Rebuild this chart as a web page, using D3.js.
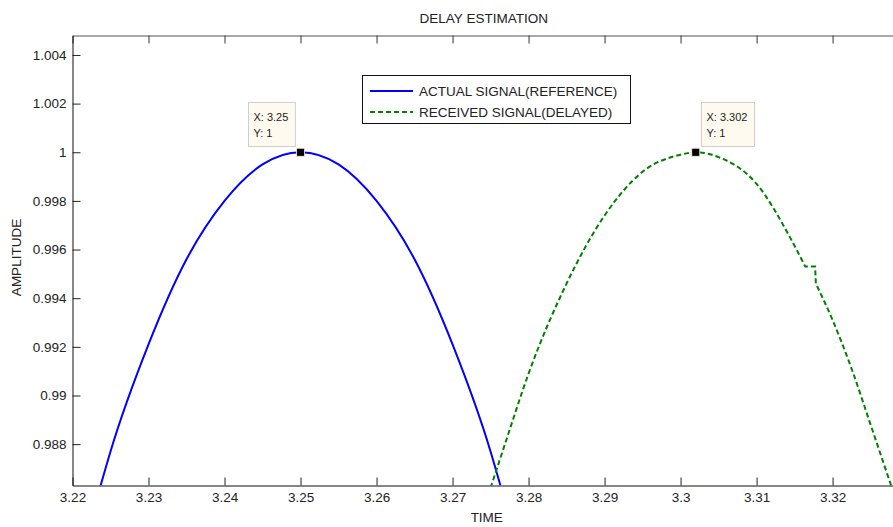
<!DOCTYPE html>
<html>
<head>
<meta charset="utf-8">
<script src="https://cdn.jsdelivr.net/npm/d3@7"></script>
<style>
  html, body { margin: 0; padding: 0; background: #fff; overflow: hidden; }
  svg { display: block; }
  text { font-family: "Liberation Sans", Arial, Helvetica, sans-serif; fill: #222; }
</style>
</head>
<body>
<svg id="chart" width="893" height="527"></svg>
<script>
// Reference signal samples (time in s, amplitude)
const refTime = [3.2237, 3.2250, 3.2300, 3.2350, 3.2400, 3.2450, 3.2500,
                 3.2550, 3.2600, 3.2650, 3.2700, 3.2750, 3.2763];
const refAmp  = [0.9863, 0.9877, 0.9921, 0.9956, 0.9980, 0.9995, 1.0000,
                 0.9995, 0.9980, 0.9956, 0.9921, 0.9877, 0.9863];

// Received (delayed) signal samples; the flat pair near 3.317 is a hold step
const delayedTime = [3.2750, 3.2770, 3.2800, 3.2850, 3.2900, 3.2950, 3.3000, 3.3020,
                     3.3050, 3.3100, 3.3144, 3.3164, 3.3177, 3.3178, 3.3200, 3.3225,
                     3.3250, 3.3277];
const delayedAmp  = [0.9862, 0.9881, 0.9909, 0.9946, 0.9974, 0.9992, 0.9999, 1.0000,
                     0.9998, 0.9987, 0.9965, 0.9953, 0.9953, 0.9946, 0.9931, 0.9911,
                     0.9888, 0.9863];

// Axis ticks and their labels
const timeTicks  = [3.22, 3.23, 3.24, 3.25, 3.26, 3.27, 3.28, 3.29, 3.30, 3.31, 3.32];
const timeLabels = ["3.22", "3.23", "3.24", "3.25", "3.26", "3.27", "3.28", "3.29", "3.3", "3.31", "3.32"];
const ampTicks   = [0.988, 0.990, 0.992, 0.994, 0.996, 0.998, 1.000, 1.002, 1.004];
const ampLabels  = ["0.988", "0.99", "0.992", "0.994", "0.996", "0.998", "1", "1.002", "1.004"];

// Data cursor readouts
const tipX = [3.25, 3.302];
const tipY = [1, 1];
const tipXLabels = ["X: 3.25", "X: 3.302"];
const tipYLabels = ["Y: 1", "Y: 1"];

// Legend entries
const seriesNames = ["ACTUAL SIGNAL(REFERENCE)", "RECEIVED SIGNAL(DELAYED)"];

const svg = d3.select("#chart");
const plot = { left: 72.5, right: 901, top: 35.5, bottom: 485.5 };

const x = d3.scaleLinear().domain([3.22, 3.329]).range([plot.left, plot.right]);
const y = d3.scaleLinear().domain([0.9863, 1.0048]).range([plot.bottom, plot.top]);

svg.append("defs").append("clipPath").attr("id", "plotClip")
  .append("rect")
  .attr("x", plot.left).attr("y", plot.top)
  .attr("width", plot.right - plot.left).attr("height", plot.bottom - plot.top);

const fontSize = "13.5px";

// Bottom axis with labels, ticks pointing inward
const bottomAxis = d3.axisBottom(x).tickValues(timeTicks)
  .tickFormat((d, i) => timeLabels[i]).tickSizeInner(-8).tickSizeOuter(0).tickPadding(7);
const gb = svg.append("g").attr("transform", `translate(0,${plot.bottom})`).call(bottomAxis);

// Top axis: ticks only
const topAxis = d3.axisTop(x).tickValues(timeTicks)
  .tickFormat("").tickSizeInner(-8).tickSizeOuter(0);
const gt = svg.append("g").attr("transform", `translate(0,${plot.top})`).call(topAxis);

// Left axis with labels
const leftAxis = d3.axisLeft(y).tickValues(ampTicks)
  .tickFormat((d, i) => ampLabels[i]).tickSizeInner(-8).tickSizeOuter(0).tickPadding(6);
const gl = svg.append("g").attr("transform", `translate(${plot.left},0)`).call(leftAxis);

[gb, gt, gl].forEach(g => {
  g.selectAll("text").attr("font-size", fontSize).attr("font-family", null).style("fill", "#222");
  g.selectAll("line").attr("stroke", "#222");
});
gb.select(".domain").attr("stroke", "#111");
gl.select(".domain").attr("stroke", "#111");
gt.select(".domain").attr("stroke", "#555");
gt.selectAll("line").attr("stroke", "#333");

// Curves
const refPts = refTime.map((t, i) => [t, refAmp[i]]);
const delPts = delayedTime.map((t, i) => [t, delayedAmp[i]]);
const smooth = d3.line().x(d => x(d[0])).y(d => y(d[1])).curve(d3.curveMonotoneX);
const straight = d3.line().x(d => x(d[0])).y(d => y(d[1]));

// The hold step is drawn with straight segments, the rest smoothly, in one path
const holdAt = delayedAmp.findIndex((v, i) => i > 0 && v === delayedAmp[i - 1]) - 1;
const before = delPts.slice(0, holdAt + 1);
const step = delPts.slice(holdAt, holdAt + 3);
const after = delPts.slice(holdAt + 2);
const delayedPath = smooth(before) + straight(step).replace(/^M/, "L") + smooth(after).replace(/^M/, "L");

const lines = svg.append("g").attr("clip-path", "url(#plotClip)");
lines.append("path").attr("d", smooth(refPts))
  .attr("fill", "none").attr("stroke", "#0000ff").attr("stroke-width", 2);
lines.append("path").attr("d", delayedPath)
  .attr("fill", "none").attr("stroke", "#008000").attr("stroke-width", 2)
  .attr("stroke-dasharray", "5,3");

// Data cursor markers and readout boxes
const tipSide = [-1, 1];
tipX.forEach((tx, i) => {
  const mx = x(tx), my = y(tipY[i]);
  const g = svg.append("g");
  const box = g.append("rect").attr("fill", "#fffaf0").attr("stroke", "#cfcfcf").attr("stroke-width", 1);
  const t1 = g.append("text").attr("font-size", "11px").text(tipXLabels[i]);
  const t2 = g.append("text").attr("font-size", "11px").text(tipYLabels[i]);
  const w = Math.max(t1.node().getComputedTextLength(), t2.node().getComputedTextLength()) + 12;
  const bx = tipSide[i] < 0 ? Math.round(mx - 6 - w) + 0.5 : Math.round(mx + 5) + 0.5;
  const by = Math.round(my - 50) + 0.5;
  box.attr("x", bx).attr("y", by).attr("width", w).attr("height", 44);
  t1.attr("x", bx + 5).attr("y", by + 18);
  t2.attr("x", bx + 5).attr("y", by + 34);
  g.append("rect").attr("x", mx - 4).attr("y", my - 4).attr("width", 8).attr("height", 8)
    .attr("fill", "#000").attr("stroke", "#f5efe0").attr("stroke-width", 0.8);
});

// Legend
const lg = svg.append("g");
lg.append("rect").attr("x", 362.5).attr("y", 75.5).attr("width", 268).attr("height", 48)
  .attr("fill", "#fff").attr("stroke", "#111").attr("stroke-width", 1);
const legendStyles = [
  { color: "#0000ff", dash: null },
  { color: "#008000", dash: "5,3" }
];
seriesNames.forEach((name, i) => {
  const cy = 91 + i * 21;
  lg.append("line").attr("x1", 370).attr("x2", 413).attr("y1", cy).attr("y2", cy)
    .attr("stroke", legendStyles[i].color).attr("stroke-width", 2)
    .attr("stroke-dasharray", legendStyles[i].dash);
  lg.append("text").attr("x", 419).attr("y", cy).attr("dy", "0.35em")
    .attr("font-size", fontSize).text(name);
});

// Title and axis labels
const midX = (plot.left + plot.right) / 2;
svg.append("text").attr("x", midX - 3).attr("y", 23).attr("text-anchor", "middle")
  .attr("font-size", fontSize).text("DELAY ESTIMATION");
svg.append("text").attr("x", midX).attr("y", 522).attr("text-anchor", "middle")
  .attr("font-size", fontSize).text("TIME");
svg.append("text").attr("transform", `translate(21,${(plot.top + plot.bottom) / 2 - 3}) rotate(-90)`)
  .attr("text-anchor", "middle").attr("font-size", fontSize).text("AMPLITUDE");
</script>
</body>
</html>
